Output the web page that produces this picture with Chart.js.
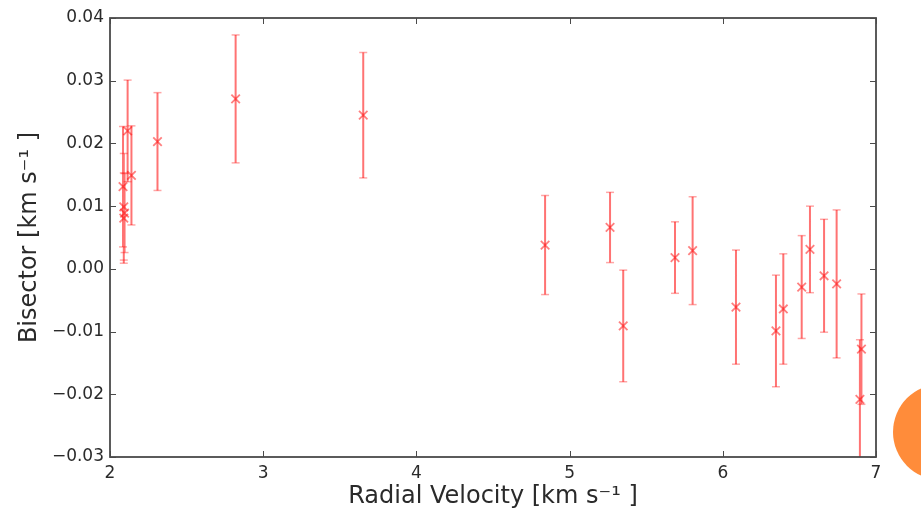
<!DOCTYPE html>
<html>
<head>
<meta charset="utf-8">
<script src="https://cdn.jsdelivr.net/npm/chart.js@4"></script>
<style>
  html, body { margin: 0; padding: 0; background: #fff; }
  #wrap { position: relative; width: 921px; height: 511px; overflow: hidden; }
  #deco { position: absolute; left: 893px; top: 384px; width: 96px; height: 96px; border-radius: 50%; background: #FF8C3A; }
</style>
</head>
<body>
<div id="wrap">
  <canvas id="c" width="921" height="511"></canvas>
  <div id="deco"></div>
</div>
<script>
// Radial velocity (km/s)
const radialVelocity = [2.085, 2.09, 2.095, 2.09, 2.115, 2.14, 2.31, 2.82, 3.653, 4.84, 5.264, 5.35, 5.688, 5.803, 6.086, 6.347, 6.395, 6.515, 6.569, 6.661, 6.743, 6.905, 6.895];
// Bisector (km/s)
const bisector = [0.0131, 0.0099, 0.0089, 0.0081, 0.0220, 0.0149, 0.0203, 0.0271, 0.0245, 0.0038, 0.0066, -0.0091, 0.0018, 0.0029, -0.0061, -0.0099, -0.0064, -0.0029, 0.0031, -0.0011, -0.0024, -0.0128, -0.0208];
// Bisector uncertainty (km/s)
const bisectorError = [0.0096, 0.0085, 0.0063, 0.0072, 0.0081, 0.0079, 0.0078, 0.0102, 0.0100, 0.0079, 0.0056, 0.0089, 0.0057, 0.0086, 0.0091, 0.0089, 0.0088, 0.0082, 0.0069, 0.0090, 0.0118, 0.0088, 0.0095];
const xTicks = [2, 3, 4, 5, 6, 7];
const yTicks = [-0.03, -0.02, -0.01, 0.00, 0.01, 0.02, 0.03, 0.04];

const points = radialVelocity.map((x, i) => ({ x: x, y: bisector[i] }));
const errorSegments = [];
radialVelocity.forEach((x, i) => {
  errorSegments.push({ x: x, y: bisector[i] - bisectorError[i] });
  errorSegments.push({ x: x, y: bisector[i] + bisectorError[i] });
  errorSegments.push({ x: x, y: null });
});

const RED_LINE = 'rgba(255,0,0,0.55)';
const RED_CAP = 'rgba(255,0,0,0.35)';
const RED_MARK = 'rgba(255,0,0,0.5)';
const AXIS = '#4a4a4a';

const frameTicks = {
  id: 'frameTicks',
  afterDraw(chart) {
    const ctx = chart.ctx;
    const a = chart.chartArea;
    const xs = chart.scales.x, ys = chart.scales.y;
    ctx.save();
    ctx.strokeStyle = AXIS;
    ctx.lineWidth = 1.8;
    ctx.strokeRect(a.left, a.top, a.right - a.left, a.bottom - a.top);
    ctx.lineWidth = 1;
    const L = 6;
    ctx.beginPath();
    xs.ticks.forEach(t => {
      const px = Math.round(xs.getPixelForValue(t.value)) + 0.5;
      ctx.moveTo(px, a.bottom); ctx.lineTo(px, a.bottom - L);
      ctx.moveTo(px, a.top); ctx.lineTo(px, a.top + L);
    });
    ys.ticks.forEach(t => {
      const py = Math.round(ys.getPixelForValue(t.value)) + 0.5;
      ctx.moveTo(a.left, py); ctx.lineTo(a.left + L, py);
      ctx.moveTo(a.right, py); ctx.lineTo(a.right - L, py);
    });
    ctx.stroke();
    ctx.restore();
  }
};

new Chart(document.getElementById('c'), {
  type: 'scatter',
  data: {
    datasets: [
      {
        type: 'line',
        data: errorSegments,
        borderColor: RED_LINE,
        borderWidth: 2,
        spanGaps: false,
        pointStyle: 'line',
        pointRadius: 4,
        pointBorderColor: RED_CAP,
        pointBorderWidth: 1.5,
        pointBackgroundColor: RED_CAP,
        fill: false,
        tension: 0
      },
      {
        data: points,
        pointStyle: 'crossRot',
        pointRadius: 6,
        pointBorderWidth: 1.8,
        borderColor: RED_MARK,
        backgroundColor: RED_MARK
      }
    ]
  },
  options: {
    responsive: false,
    animation: false,
    events: [],
    layout: { padding: { top: 18, right: 45, left: 0, bottom: 0 } },
    plugins: { legend: { display: false }, tooltip: { enabled: false } },
    scales: {
      x: {
        type: 'linear',
        min: 2, max: 7,
        afterFit(s) { s.height = 54; },
        afterBuildTicks(s) { s.ticks = xTicks.map(v => ({ value: v })); },
        grid: { display: false, drawTicks: false },
        border: { display: false },
        ticks: {
          padding: 6,
          color: '#2a2a2a',
          font: { family: 'DejaVu Sans', size: 17 },
          callback: v => String(v)
        },
        title: {
          display: true,
          text: 'Radial Velocity [km s\u207B\u00B9 ]',
          color: '#2a2a2a',
          font: { family: 'DejaVu Sans', size: 24 },
          padding: { top: 0, bottom: 0 }
        }
      },
      y: {
        type: 'linear',
        min: -0.03, max: 0.04,
        afterFit(s) { s.width = 110; },
        afterBuildTicks(s) { s.ticks = yTicks.map(v => ({ value: v })); },
        grid: { display: false, drawTicks: false },
        border: { display: false },
        ticks: {
          padding: 6,
          color: '#2a2a2a',
          font: { family: 'DejaVu Sans', size: 17 },
          callback: v => (v < 0 ? '\u2212' : '') + Math.abs(v).toFixed(2)
        },
        title: {
          display: true,
          text: 'Bisector [km s\u207B\u00B9 ]',
          color: '#2a2a2a',
          font: { family: 'DejaVu Sans', size: 24 },
          padding: { top: 15, bottom: 0 }
        }
      }
    }
  },
  plugins: [frameTicks]
});
</script>
</body>
</html>
